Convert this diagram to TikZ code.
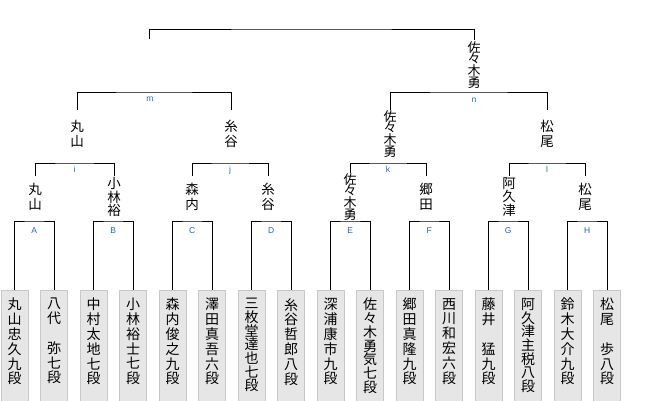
\documentclass[tikz,border=0pt]{standalone}
\usepackage{fontspec}
\usetikzlibrary{calc}
\newfontfamily\jpfont{Noto Sans CJK JP}
\newfontfamily\labfont{Liberation Sans}
\definecolor{labblue}{RGB}{30,100,210}
\definecolor{boxfill}{RGB}{230,230,230}
\definecolor{boxedge}{RGB}{200,200,200}
\begin{document}
\begin{tikzpicture}[x=1pt,y=-1pt,
  line/.style={black,line width=0.9pt},
  leafbox/.style={draw=boxedge,fill=boxfill,minimum width=27pt,minimum height=112pt,anchor=north,inner sep=0pt},
  leaftext/.style={font=\jpfont\fontsize{14}{14.8}\selectfont,align=center,anchor=north,inner sep=0pt},
  leafseven/.style={leaftext,font=\jpfont\fontsize{14}{13.7}\selectfont},
  rname/.style={font=\jpfont\fontsize{13.5}{14.5}\selectfont,align=center,inner sep=0pt},
  rthree/.style={rname,font=\jpfont\fontsize{13.5}{13.5}\selectfont},
  rfour/.style={rname,font=\jpfont\fontsize{13}{11.5}\selectfont},
  lbl/.style={font=\labfont\fontsize{8.5}{9}\selectfont,text=labblue,inner sep=0pt,anchor=base}]
\useasboundingbox (0,0) rectangle (660,400);

% leaf boxes
\foreach \k in {1,...,16}{
  \node[leafbox] (b\k) at ({14.5+39.5*(\k-1)},290) {};
}
\node[leaftext]  (t1)  at (b1.north)  [yshift=-8pt] {丸\\山\\忠\\久\\九\\段};
\node[leaftext]  (t2)  at (b2.north)  [yshift=-8pt] {八\\代\\\phantom{八}\\弥\\七\\段};
\node[leaftext]  (t3)  at (b3.north)  [yshift=-8pt] {中\\村\\太\\地\\七\\段};
\node[leaftext]  (t4)  at (b4.north)  [yshift=-8pt] {小\\林\\裕\\士\\七\\段};
\node[leaftext]  (t5)  at (b5.north)  [yshift=-8pt] {森\\内\\俊\\之\\九\\段};
\node[leaftext]  (t6)  at (b6.north)  [yshift=-8pt] {澤\\田\\真\\吾\\六\\段};
\node[leafseven] (t7)  at (b7.north)  [yshift=-8pt] {三\\枚\\堂\\達\\也\\七\\段};
\node[leaftext]  (t8)  at (b8.north)  [yshift=-8pt] {糸\\谷\\哲\\郎\\八\\段};
\node[leaftext]  (t9)  at (b9.north)  [yshift=-8pt] {深\\浦\\康\\市\\九\\段};
\node[leafseven] (t10) at (b10.north) [yshift=-8pt] {佐\\々\\木\\勇\\気\\七\\段};
\node[leaftext]  (t11) at (b11.north) [yshift=-8pt] {郷\\田\\真\\隆\\九\\段};
\node[leaftext]  (t12) at (b12.north) [yshift=-8pt] {西\\川\\和\\宏\\六\\段};
\node[leaftext]  (t13) at (b13.north) [yshift=-8pt] {藤\\井\\\phantom{八}\\猛\\九\\段};
\node[leafseven] (t14) at (b14.north) [yshift=-8pt] {阿\\久\\津\\主\\税\\八\\段};
\node[leaftext]  (t15) at (b15.north) [yshift=-8pt] {鈴\\木\\大\\介\\九\\段};
\node[leaftext]  (t16) at (b16.north) [yshift=-8pt] {松\\尾\\\phantom{八}\\歩\\八\\段};

% first-round brackets
\foreach \L/\a/\b in {A/1/2,B/3/4,C/5/6,D/7/8,E/9/10,F/11/12,G/13/14,H/15/16}{
  \coordinate (m\L) at ($(b\a.north)!0.5!(b\b.north)$);
  \coordinate (h\L) at (m\L |- 0,221);
  \draw[line] (b\a.north) |- (h\L) -| (b\b.north);
  \node[lbl] (l\L) at ($(h\L)+(0,12)$) {\L};
}

% round-1 winners
\begin{scope}[every node/.append style={minimum height=42pt}]
\node[rname]  (wA) at (35,197)  {丸\\山};
\node[rthree] (wB) at (114,197) {小\\林\\裕};
\node[rname]  (wC) at (192,197) {森\\内};
\node[rname]  (wD) at (268,197) {糸\\谷};
\node[rfour]  (wE) at (350,197) {佐\\々\\木\\勇};
\node[rname]  (wF) at (426,197) {郷\\田};
\node[rthree] (wG) at (509,197) {阿\\久\\津};
\node[rname]  (wH) at (585,197) {松\\尾};
\end{scope}
\foreach \L/\a/\b in {i/A/B,j/C/D,k/E/F,l/G/H}{
  \coordinate (h\L) at ($(w\a.north)!0.5!(w\b.north)$);
  \coordinate (hh\L) at (h\L |- 0,163);
  \draw[line] (w\a.north) |- (hh\L) -| (w\b.north);
  \node[lbl] (l\L) at ($(hh\L)+(0,9)$) {\L};
}

% round-2 winners
\begin{scope}[every node/.append style={minimum height=48pt}]
\node[rname] (wi) at (77,134)  {丸\\山};
\node[rname] (wj) at (231,134) {糸\\谷};
\node[rfour] (wk) at (390,134) {佐\\々\\木\\勇};
\node[rname] (wl) at (547,134) {松\\尾};
\end{scope}
\coordinate (hm) at (154,92);
\coordinate (hn) at (468.5,92);
\draw[line] (wi.north) |- (hm) -| (wj.north);
\draw[line] (wk.north) |- (hn) -| (wl.north);
\node[lbl] (lm) at (150,101.5) {m};
\node[lbl] (ln) at (474,102.5) {n};

% final
\node[rfour,minimum height=50pt] (wn) at (474,65) {佐\\々\\木\\勇};
\coordinate (fl) at (149,39);
\coordinate (hf) at (311,29);
\draw[line] (fl) |- (hf) -| (wn.north);
\end{tikzpicture}
\end{document}
